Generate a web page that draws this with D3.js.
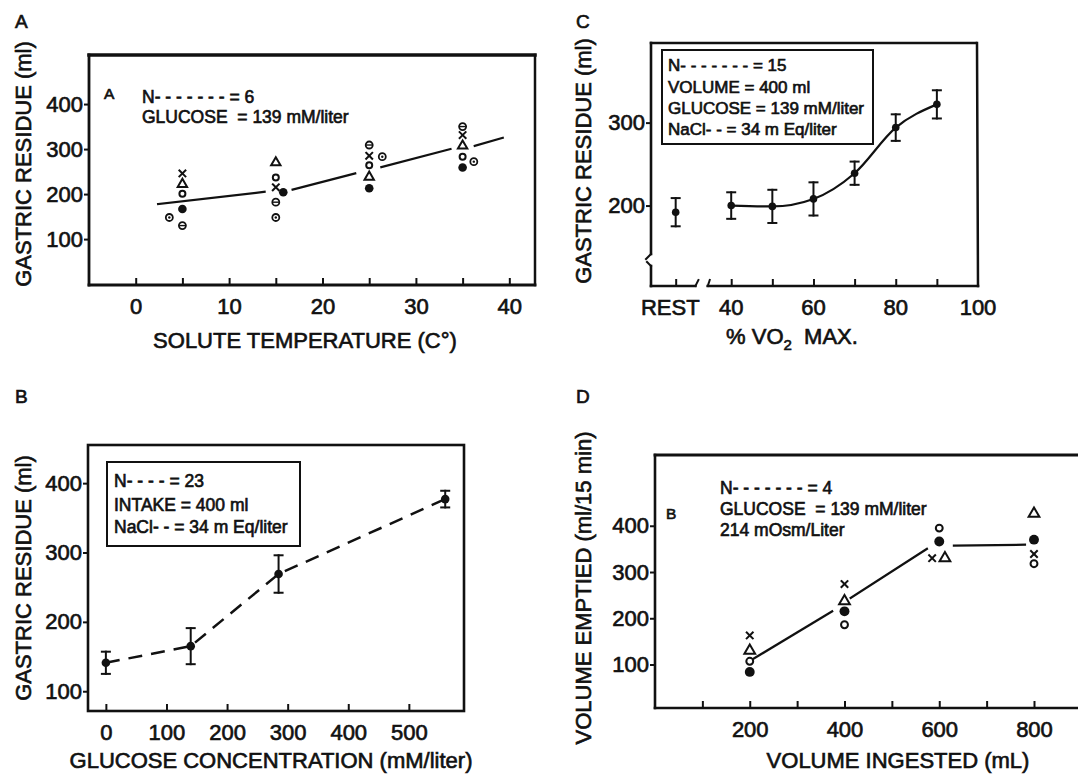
<!DOCTYPE html>
<html>
<head>
<meta charset="utf-8">
<script src="https://cdn.jsdelivr.net/npm/d3@7"></script>
<style>
  body { margin: 0; background: #fff; }
  svg { display: block; font-family: "Liberation Sans", Arial, sans-serif; }
  .t { fill: #111; stroke: #111; stroke-width: 0.65; white-space: pre; }
</style>
</head>
<body>
<svg id="chart" width="1078" height="778"></svg>
<script>
// ---- panel A: solute temperature ----
const tempX = [5, 15, 25, 35];
const aCross = [246, 215, 285, 331];
const aTri = [222, 270, 238, 307];
const aOpen = [201, 237, 264, 283];
const aFilledX = [5, 15.8, 25, 35];
const aFilled = [167, 204, 213, 259];
const aThetaX = [5, 15, 25, 35];
const aTheta = [130, 182, 309, 350];
const aTheta2X = [3.6, 15, 26.4, 36.2];
const aTheta2 = [148, 148, 283, 272];
// fitted line, drawn in pieces between the clusters
const aLineX = [[2.4, 13.8], [16.8, 23.5], [26.3, 33.7], [36.3, 39.3]];
const aLineY = [[178, 205], [210, 246], [260, 300], [307, 325]];

// ---- panel B: glucose concentration ----
const glucose = [0, 140, 285, 560];
const bResidue = [141, 165, 269, 377];
const bErr = [16, 26, 27, 12];

// ---- panel C: % VO2 max ----
const restResidue = 192;
const restErr = 17;
const vo2 = [40, 50, 60, 70, 80, 90];
const cResidue = [200, 199, 208, 239, 294, 322];
const cErr = [16, 20, 20, 14, 16, 17];

// ---- panel D: volume ingested ----
const dCrossX = [200, 400, 585, 800];
const dCross = [163, 274, 330, 339];
const dTriX = [200, 400, 612, 800];
const dTri = [130, 237, 330, 426];
const dOpenX = [200, 400, 600, 800];
const dOpen = [107, 186, 395, 318];
const dFilledX = [200, 400, 600, 800];
const dFilled = [84, 215, 366, 370];
const dLineX = [[207, 374], [413, 574], [631, 781]];
const dLineY = [[112, 215], [244, 350], [357, 359]];

const svg = d3.select('#chart');

function txt(g, x, y, s, size, anchor) {
  return g.append('text').attr('class', 't')
    .attr('x', x).attr('y', y)
    .attr('text-anchor', anchor || 'start')
    .style('font-size', size + 'px')
    .text(s);
}

function line(g, x1, y1, x2, y2, w) {
  g.append('line').attr('x1', x1).attr('y1', y1).attr('x2', x2).attr('y2', y2)
    .attr('stroke', '#111').attr('stroke-width', w || 2.5).attr('stroke-linecap', 'square');
}

function yAxis(g, y, x0, ticks) {
  g.append('g').attr('transform', 'translate(' + x0 + ',0)')
    .call(d3.axisLeft(y).tickValues(ticks).tickSize(5).tickPadding(1).tickSizeOuter(0))
    .call(a => a.attr('font-family', null).attr('font-size', null))
    .call(a => a.select('.domain').remove())
    .call(a => a.selectAll('line').attr('stroke', '#111').attr('stroke-width', 2))
    .call(a => a.selectAll('text').attr('class', 't').style('font-size', '22px'));
}

function xAxis(g, x, y0, ticks, fmt) {
  g.append('g').attr('transform', 'translate(0,' + y0 + ')')
    .call(d3.axisBottom(x).tickValues(ticks).tickSize(-7).tickPadding(13).tickSizeOuter(0).tickFormat(fmt))
    .call(a => a.attr('font-family', null).attr('font-size', null))
    .call(a => a.select('.domain').remove())
    .call(a => a.selectAll('line').attr('stroke', '#111').attr('stroke-width', 2))
    .call(a => a.selectAll('text').attr('class', 't').style('font-size', '22px'));
}

function yTitle(g, x, y, s) {
  g.append('text').attr('class', 't')
    .attr('transform', 'translate(' + x + ',' + y + ') rotate(-90)')
    .attr('text-anchor', 'middle').style('font-size', '22px').text(s);
}

function marker(g, type, cx, cy, big) {
  const k = big ? 1.15 : 1;
  if (type === 'filled') {
    g.append('circle').attr('cx', cx).attr('cy', cy).attr('r', 4.3 * k).attr('fill', '#111');
  } else if (type === 'open') {
    g.append('circle').attr('cx', cx).attr('cy', cy).attr('r', 3 * k)
      .attr('fill', 'none').attr('stroke', '#111').attr('stroke-width', 2);
  } else if (type === 'tri') {
    g.append('path').attr('transform', 'translate(' + cx + ',' + cy + ')')
      .attr('d', d3.symbol(d3.symbolTriangle, 38 * k * k)())
      .attr('fill', 'none').attr('stroke', '#111').attr('stroke-width', 2);
  } else if (type === 'cross') {
    const s = 3 * k;
    line(g, cx - s, cy - s, cx + s, cy + s, 2);
    line(g, cx - s, cy + s, cx + s, cy - s, 2);
  } else if (type === 'theta' || type === 'theta2') {
    g.append('circle').attr('cx', cx).attr('cy', cy).attr('r', 3.5)
      .attr('fill', 'none').attr('stroke', '#111').attr('stroke-width', 1.8);
    if (type === 'theta') line(g, cx - 2.4, cy, cx + 2.4, cy, 1.4);
    else g.append('circle').attr('cx', cx).attr('cy', cy).attr('r', 1.2).attr('fill', '#111');
  }
}

function errBars(g, xs, ys, es, x, y) {
  xs.forEach((v, i) => {
    const px = x(v);
    line(g, px, y(ys[i] - es[i]), px, y(ys[i] + es[i]), 2);
    line(g, px - 4, y(ys[i] + es[i]), px + 4, y(ys[i] + es[i]), 2);
    line(g, px - 4, y(ys[i] - es[i]), px + 4, y(ys[i] - es[i]), 2);
  });
}

// ================= panel A =================
{
  const g = svg.append('g');
  const x = d3.scaleLinear().domain([-5, 42.75]).range([89, 535]);
  const y = d3.scaleLinear().domain([-2, 509]).range([285, 55]);
  line(g, x.range()[0], 55, x.range()[1], 55, 3.5);
  line(g, x.range()[1], 55, x.range()[1], 285, 2.5);
  line(g, 89, 55, 89, 285, 2.8);
  line(g, 89, 285, 535, 285, 2.8);
  yAxis(g, y, 89, [100, 200, 300, 400]);
  xAxis(g, x, 285, [0, 5, 10, 15, 20, 25, 30, 35, 40], d => d % 10 === 0 ? d : '');

  aLineX.forEach((seg, i) => line(g, x(seg[0]), y(aLineY[i][0]), x(seg[1]), y(aLineY[i][1]), 2.2));
  tempX.forEach((t, i) => {
    marker(g, 'cross', x(t), y(aCross[i]));
    marker(g, 'tri', x(t), y(aTri[i]));
    marker(g, 'open', x(t), y(aOpen[i]));
  });
  aFilledX.forEach((t, i) => marker(g, 'filled', x(t), y(aFilled[i])));
  aThetaX.forEach((t, i) => marker(g, 'theta', x(t), y(aTheta[i])));
  aTheta2X.forEach((t, i) => marker(g, 'theta2', x(t), y(aTheta2[i])));

  txt(g, 15, 28, 'A', 19);
  txt(g, 104, 99, 'A', 15.5);
  txt(g, 142, 103, 'N- - - - - - - = 6', 17.5);
  txt(g, 142, 123, 'GLUCOSE  = 139 mM/liter', 17.5);
  yTitle(g, 31, 164, 'GASTRIC RESIDUE (ml)');
  txt(g, 305, 348, 'SOLUTE TEMPERATURE (C°)', 22, 'middle');
}

// ================= panel B =================
{
  const g = svg.append('g');
  const x = d3.scaleLinear().domain([-29.5, 591]).range([88, 464]);
  const y = d3.scaleLinear().domain([71.5, 455]).range([711, 445]);
  g.append('rect').attr('x', 88).attr('y', 445).attr('width', 376).attr('height', 266)
    .attr('fill', 'none').attr('stroke', '#111').attr('stroke-width', 2.6);
  yAxis(g, y, 88, [100, 200, 300, 400]);
  xAxis(g, x, 711, [0, 100, 200, 300, 400, 500], d => d);

  g.append('path').datum(glucose)
    .attr('d', d3.line().x(d => x(d)).y((d, i) => y(bResidue[i])))
    .attr('fill', 'none').attr('stroke', '#111').attr('stroke-width', 2.5)
    .attr('stroke-dasharray', '14,9');
  errBars(g, glucose, bResidue, bErr, x, y);
  glucose.forEach((v, i) => marker(g, 'filled', x(v), y(bResidue[i])));

  g.append('rect').attr('x', 107).attr('y', 462).attr('width', 193).attr('height', 84)
    .attr('fill', '#fff').attr('stroke', '#111').attr('stroke-width', 2);
  txt(g, 114, 487, 'N- - - - = 23', 17.5);
  txt(g, 114, 511, 'INTAKE = 400 ml', 17.5);
  txt(g, 114, 533, 'NaCl- - = 34 m Eq/liter', 17.5);

  txt(g, 15, 403, 'B', 19);
  yTitle(g, 31, 578, 'GASTRIC RESIDUE (ml)');
  txt(g, 271, 768, 'GLUCOSE CONCENTRATION (mM/liter)', 22, 'middle');
}

// ================= panel C =================
{
  const g = svg.append('g');
  const restPos = 26.5;
  const x = d3.scaleLinear().domain([20.5, 100]).range([651, 978]);
  const y = d3.scaleLinear().domain([103, 396]).range([286, 43]);
  // frame with axis breaks
  line(g, 651, 43, 976, 43, 2.5);
  line(g, 977, 43, 978, 286, 2.5);
  line(g, 651, 43, 651, 254, 2.6);
  line(g, 651, 254, 646, 259, 2);
  line(g, 651, 266, 651, 286, 2.6);
  line(g, 651, 266, 647, 262, 2);
  line(g, 651, 286, x(31.3), 286, 2.6);
  line(g, x(31.3), 286, x(31.3) + 3, 280, 2);
  line(g, x(34.3), 286, 978, 286, 2.6);
  line(g, x(34.3), 286, x(34.3) + 2, 280, 2);

  yAxis(g, y, 651, [200, 300]);
  const ticksC = [restPos].concat(vo2);
  xAxis(g, x, 286, ticksC, () => '');
  [['REST', restPos - 1.3], ['40', 40], ['60', 60], ['80', 80], ['100', 100]].forEach(l => {
    txt(g, x(l[1]), 315, l[0], 22, 'middle');
  });

  g.append('path').datum(vo2)
    .attr('d', d3.line().curve(d3.curveMonotoneX).x(d => x(d)).y((d, i) => y(cResidue[i])))
    .attr('fill', 'none').attr('stroke', '#111').attr('stroke-width', 2.2);
  errBars(g, vo2, cResidue, cErr, x, y);
  errBars(g, [restPos], [restResidue], [restErr], x, y);
  vo2.forEach((v, i) => g.append('circle').attr('cx', x(v)).attr('cy', y(cResidue[i])).attr('r', 3.8).attr('fill', '#111'));
  g.append('circle').attr('cx', x(restPos)).attr('cy', y(restResidue)).attr('r', 3.8).attr('fill', '#111');

  g.append('rect').attr('x', 662).attr('y', 50).attr('width', 211).attr('height', 94)
    .attr('fill', '#fff').attr('stroke', '#111').attr('stroke-width', 2);
  txt(g, 668, 71, 'N- - - - - - - = 15', 17);
  txt(g, 668, 93, 'VOLUME = 400 ml', 17);
  txt(g, 668, 114, 'GLUCOSE = 139 mM/liter', 17);
  txt(g, 668, 135, 'NaCl- - = 34 m Eq/liter', 17);

  txt(g, 576, 28, 'C', 19);
  yTitle(g, 591, 161, 'GASTRIC RESIDUE (ml)');
  const t = g.append('text').attr('class', 't').attr('x', 792).attr('y', 344)
    .attr('text-anchor', 'middle').style('font-size', '22px');
  t.append('tspan').text('% VO');
  t.append('tspan').attr('dy', 6).style('font-size', '15px').text('2');
  t.append('tspan').attr('dy', -6).text('  MAX.');
}

// ================= panel D =================
{
  const g = svg.append('g');
  const x = d3.scaleLinear().domain([0, 895]).range([655, 1079]);
  const y = d3.scaleLinear().domain([6, 553]).range([708, 455]);
  line(g, 655, 455, 1078, 455, 2.8);
  line(g, 655, 455, 655, 708, 2.6);
  line(g, 655, 708, 1078, 708, 2.6);
  yAxis(g, y, 655, [100, 200, 300, 400]);
  xAxis(g, x, 708, [100, 200, 300, 400, 500, 600, 700, 800], d => d % 200 === 0 ? d : '');

  dLineX.forEach((seg, i) => line(g, x(seg[0]), y(dLineY[i][0]), x(seg[1]), y(dLineY[i][1]), 2.2));
  dCrossX.forEach((v, i) => marker(g, 'cross', x(v), y(dCross[i])));
  dTriX.forEach((v, i) => marker(g, 'tri', x(v), y(dTri[i]), true));
  dOpenX.forEach((v, i) => marker(g, 'open', x(v), y(dOpen[i]), true));
  dFilledX.forEach((v, i) => marker(g, 'filled', x(v), y(dFilled[i]), true));

  txt(g, 720, 494, 'N- - - - - - - = 4', 17.5);
  txt(g, 720, 515, 'GLUCOSE  = 139 mM/liter', 17.5);
  txt(g, 720, 536, '214 mOsm/Liter', 17.5);
  txt(g, 666, 519, 'B', 15.5);

  txt(g, 576, 403, 'D', 19);
  yTitle(g, 591, 588, 'VOLUME EMPTIED (ml/15 min)');
  txt(g, 898, 768, 'VOLUME INGESTED (mL)', 22, 'middle');
}
</script>
</body>
</html>
